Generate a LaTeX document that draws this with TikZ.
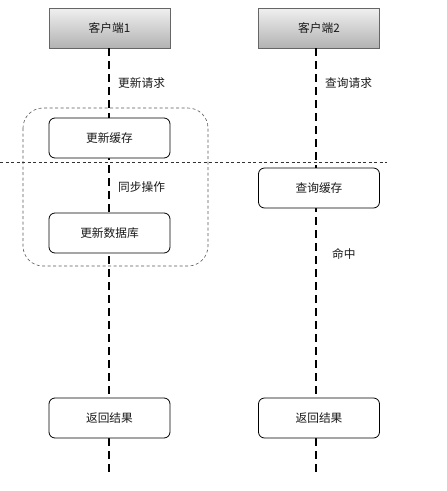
\documentclass[tikz,border=0pt]{standalone}
\usepackage{fontspec}
\setmainfont{Noto Sans CJK SC}
\begin{document}
\begin{tikzpicture}[x=1pt,y=-1pt,
  client/.style={draw=black!60, line width=0.8pt, top color=black!6, bottom color=black!30, minimum width=121pt, minimum height=40pt, inner sep=0pt, font=\fontsize{11.7}{13}\selectfont, text=black!90},
  proc/.style={draw=black, line width=0.8pt, fill=white, rounded corners=6pt, minimum width=121pt, minimum height=40pt, inner sep=0pt, font=\fontsize{11.7}{13}\selectfont, text=black!90},
  lbl/.style={anchor=west, inner sep=0pt, font=\fontsize{11.7}{13}\selectfont, text=black!90},
  life/.style={line width=2pt, dash pattern=on 8pt off 5pt},
  sep/.style={line width=0.6pt, black!80, dash pattern=on 3pt off 2.5pt}]
\useasboundingbox (0,0) rectangle (447,491);
% lifeline end coordinates
\coordinate (e1) at (109,474);
\coordinate (e2) at (316,474);
% group box and separator
\draw[sep, black!65, rounded corners=20pt] (23,108) rectangle (208,266);
\coordinate (s1) at (0,162);
\coordinate (s2) at (387,162);
% nodes
\node[client] (c1) at (109.5,28) {客户端1};
\node[client] (c2) at (319,28) {客户端2};
\draw[life] (c1.south -| e1) -- (e1);
\draw[life] (c2.south -| e2) -- (e2);
\draw[sep] (s1) -- (s2);
\node[proc] (u1) at (109.5,138) {更新缓存};
\node[proc] (u2) at (109.5,233) {更新数据库};
\node[proc] (q1) at (319,188) {查询缓存};
\node[proc] (r1) at (109.5,418) {返回结果};
\node[proc] (r2) at (319,418) {返回结果};
\node[lbl] (l1) at (118,83) {更新请求};
\node[lbl] (l2) at (325,83) {查询请求};
\node[lbl] (l3) at (118,187) {同步操作};
\node[lbl] (l4) at (332,254) {命中};
\end{tikzpicture}
\end{document}
